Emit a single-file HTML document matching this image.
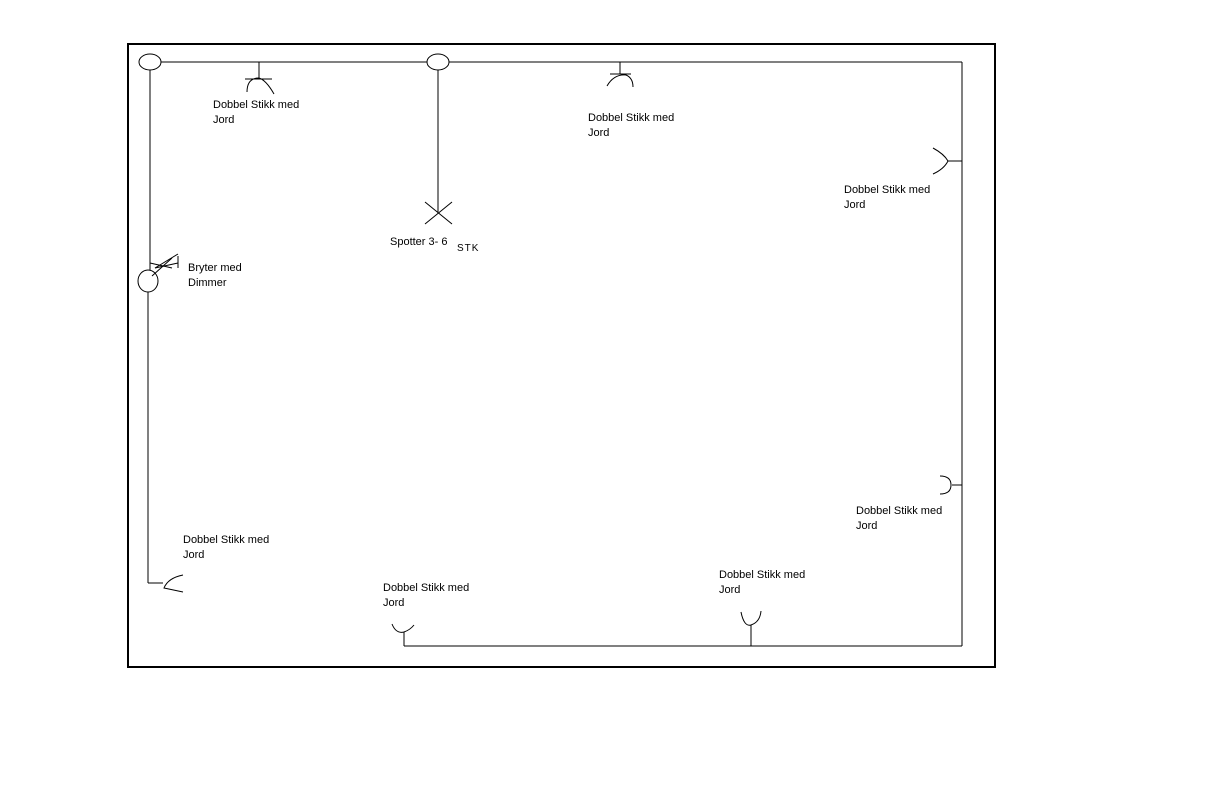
<!DOCTYPE html>
<html><head><meta charset="utf-8"><style>
html,body{margin:0;padding:0;background:#fff;}
svg{display:block}
text{font-family:"Liberation Sans",sans-serif;font-size:11px;fill:#000}
</style></head><body>
<svg width="1206" height="800" viewBox="0 0 1206 800" xmlns="http://www.w3.org/2000/svg">
<rect x="0" y="0" width="1206" height="800" fill="#fff"/>
<rect x="128" y="44" width="867" height="623" fill="none" stroke="#000" stroke-width="2"/>
<g fill="none" stroke="#000" stroke-width="1">
<!-- wires -->
<line x1="161" y1="62" x2="427" y2="62"/>
<line x1="449" y1="62" x2="962" y2="62"/>
<line x1="962" y1="62" x2="962" y2="646"/>
<line x1="404" y1="646" x2="962" y2="646"/>
<line x1="150" y1="70" x2="150" y2="270"/>
<line x1="148" y1="292" x2="148" y2="583"/>
<line x1="148" y1="583" x2="163" y2="583"/>
<line x1="438" y1="70" x2="438" y2="212"/>
<!-- ellipses -->
<ellipse cx="150" cy="62" rx="11" ry="8"/>
<ellipse cx="438" cy="62" rx="11" ry="8"/>
<ellipse cx="148" cy="281" rx="10" ry="11"/>
<!-- top outlet 1 -->
<line x1="259" y1="62" x2="259" y2="79"/>
<line x1="245" y1="79" x2="272" y2="79"/>
<path d="M247 92 Q247 78 259 78 Q266 80 274 94"/>
<!-- top outlet 2 -->
<line x1="620" y1="62" x2="620" y2="74"/>
<line x1="610" y1="74" x2="631" y2="74"/>
<path d="M607 86 Q614 74 626 75 Q633 78 633 87"/>
<!-- spot X -->
<line x1="425" y1="202" x2="452" y2="224"/>
<line x1="452" y1="202" x2="425" y2="224"/>
<!-- right outlet 1 -->
<line x1="948" y1="161" x2="962" y2="161"/>
<path d="M933 148 Q944 154 948 161 Q944 169 933 174"/>
<!-- right outlet 2 -->
<line x1="952" y1="485" x2="962" y2="485"/>
<path d="M940 476 Q951 476 951 485 Q951 494 940 494"/>
<!-- bottom outlets -->
<line x1="404" y1="632" x2="404" y2="646"/>
<path d="M392 624 Q396 634 404 632 Q410 630 414 625"/>
<line x1="751" y1="625" x2="751" y2="646"/>
<path d="M741 612 Q744 627 751 625 Q760 622 761 611"/>
<!-- left bottom outlet -->
<path d="M183 575 Q168 578 164 588 L183 592"/>
<!-- switch -->
<line x1="150" y1="263" x2="172" y2="268"/>
<line x1="155" y1="268" x2="178" y2="254"/>
<line x1="155" y1="268" x2="178" y2="263"/>
<line x1="178" y1="256" x2="178" y2="268"/>
<line x1="152" y1="276" x2="172" y2="258"/>
</g>
<text x="213" y="108">Dobbel Stikk med</text><text x="213" y="123">Jord</text>
<text x="588" y="121">Dobbel Stikk med</text><text x="588" y="136">Jord</text>
<text x="844" y="193">Dobbel Stikk med</text><text x="844" y="208">Jord</text>
<text x="390" y="245">Spotter 3- 6</text>
<text x="457" y="251" style="font-size:10px;letter-spacing:1px">STK</text>
<text x="188" y="271">Bryter med</text><text x="188" y="286">Dimmer</text>
<text x="856" y="514">Dobbel Stikk med</text><text x="856" y="529">Jord</text>
<text x="183" y="543">Dobbel Stikk med</text><text x="183" y="558">Jord</text>
<text x="383" y="591">Dobbel Stikk med</text><text x="383" y="606">Jord</text>
<text x="719" y="578">Dobbel Stikk med</text><text x="719" y="593">Jord</text>
</svg>
</body></html>
